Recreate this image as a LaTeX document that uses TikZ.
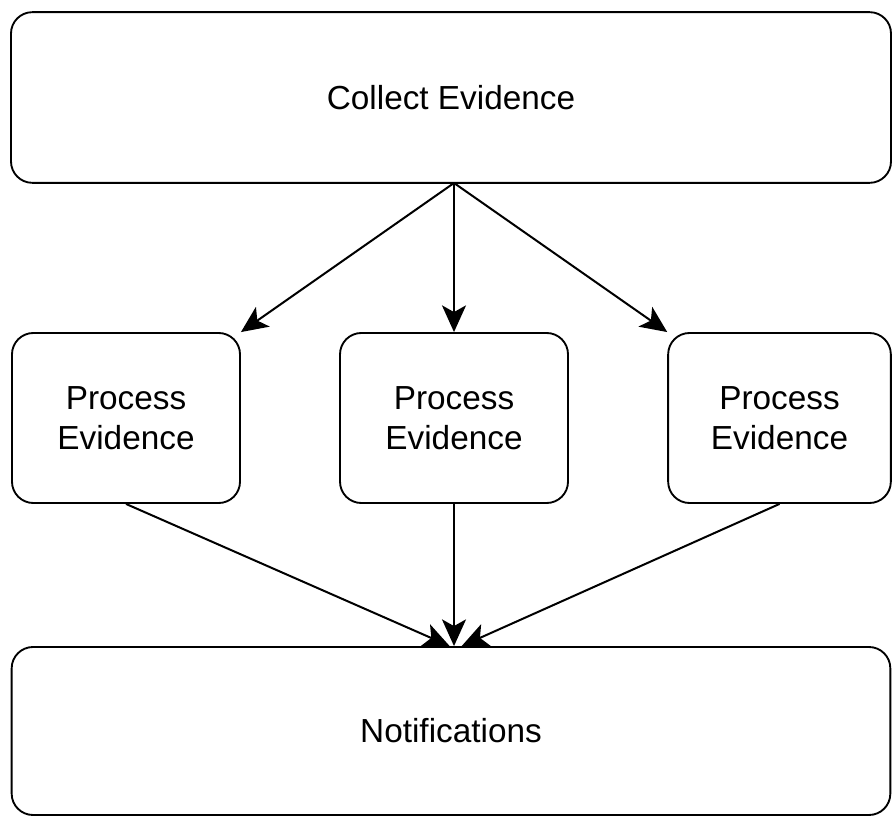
\documentclass[tikz,border=0pt]{standalone}
\usepackage{fontspec}
\setmainfont{Liberation Sans}
\usetikzlibrary{arrows.meta}
\begin{document}
\begin{tikzpicture}
[x=0.75pt,y=-0.75pt,%
  nodeDecorate/.style={shape=rectangle,rounded corners=16pt,draw,line width=1.4pt,
    align=center,inner sep=0pt,font=\fontsize{25}{30}\selectfont},
  lineDecorate/.style={-{Stealth[length=20pt,width=18pt,inset=5pt]},line width=1.5pt}]
\useasboundingbox (0,0) rectangle (892,816);
%% top and bottom boxes
\node (collect) at (451,97.5) [nodeDecorate,minimum width=660pt,minimum height=128pt] {Collect Evidence};
\node (notify) at (451,731) [nodeDecorate,minimum width=659pt,minimum height=126pt] {Notifications};
%% middle boxes
\foreach \nodename/\x/\w in {proc1/126/171pt, proc2/454/171pt, proc3/779.5/167pt}
{
  \node (\nodename) at (\x,418) [nodeDecorate,minimum width=\w,minimum height=127.5pt] {Process\\Evidence};
}
\coordinate (fork) at (454,183);
%% edges
\foreach \endnode/\anc in {proc1/north east, proc2/north, proc3/north west}
{
  \draw[lineDecorate] (fork) -- (\endnode.\anc);
}
\foreach \startnode/\shift in {proc1/-1pt, proc2/2.25pt, proc3/8pt}
{
  \draw[lineDecorate] (\startnode.south) -- ([xshift=\shift]notify.north);
}
\end{tikzpicture}
\end{document}
